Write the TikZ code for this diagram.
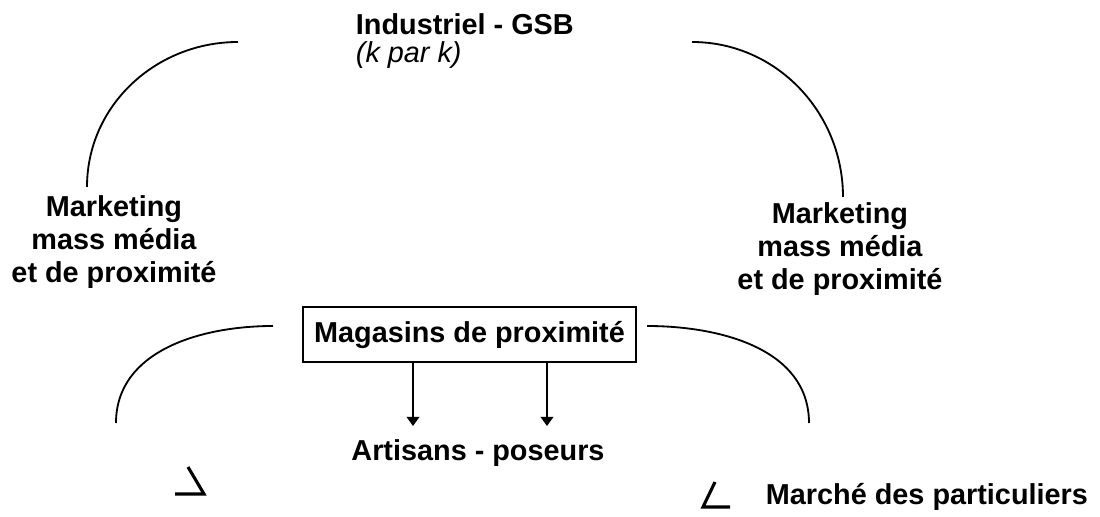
\documentclass[tikz,border=0pt]{standalone}
\usepackage{fontspec}
\setmainfont{Liberation Sans}
\usetikzlibrary{positioning,arrows.meta,calc}

\begin{document}
\begin{tikzpicture}[x=0.025cm,y=-0.025cm,>={Triangle[width=9pt,length=6.5pt]},
    line width=1.3pt,
    lab node/.style={font=\fontsize{20.5}{23.4}\selectfont\bfseries,align=center,inner sep=0pt},
    box node/.style={draw,line width=1.5pt,font=\fontsize{20.5}{23.4}\selectfont\bfseries,
      minimum width=333*0.025cm,minimum height=55*0.025cm,inner sep=0pt},
    tick line/.style={line width=2.2pt,line join=miter}]

    \useasboundingbox (0,0) rectangle (1100,517);

    % texts
    \node[lab node,anchor=base west] (gsb) at (355,35) {Industriel - GSB};
    \node[lab node,anchor=base west,font=\fontsize{20.5}{23.4}\selectfont\itshape] (kpk) at (355,63) {(k par k)};
    \node[lab node] (mkl) at (114,242) {Marketing\\mass média\\et de proximité};
    \node[lab node] (mkr) at (840,249) {Marketing\\mass média\\et de proximité};
    \node[box node] (mag) at (469.5,334.5) {Magasins de proximité};
    \node[lab node] (art) at (478,453) {Artisans - poseurs};
    \node[lab node,anchor=base west] (part) at (765,505) {Marché des particuliers};

    % arc ends
    \coordinate (a1) at (238,42);
    \coordinate (a2) at (87,187);
    \coordinate (b1) at (692,42);
    \coordinate (b2) at (843,197);
    \coordinate (c1) at (273,326);
    \coordinate (c2) at (116,423);
    \coordinate (d1) at (647,326);
    \coordinate (d2) at (809,423);

    \draw (a1) to[out=180,in=90] (a2);
    \draw (b1) to[out=0,in=90] (b2);
    \draw (c1) to[out=180,in=90] (c2);
    \draw (d1) to[out=0,in=90] (d2);

    % arrows to the artisans
    \coordinate (t1) at (413,426);
    \coordinate (t2) at (547,426);
    \draw[->] (mag.south -| t1) -- (t1);
    \draw[->] (mag.south -| t2) -- (t2);

    % small marks
    \draw[tick line] (188,467) -- (204,494) -- (175,494);
    \draw[tick line] (715,482) -- (703,507) -- (730,507);
  \end{tikzpicture}
\end{document}
